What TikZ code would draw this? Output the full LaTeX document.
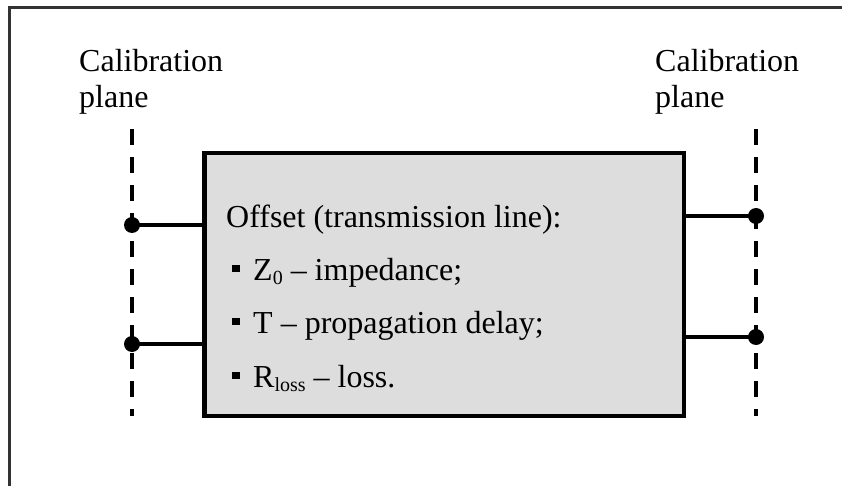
\documentclass[tikz,border=0pt]{standalone}
\usepackage{fontspec}
\setmainfont{Liberation Serif}
\definecolor{boxfill}{HTML}{DDDDDD}
\definecolor{framecol}{HTML}{333333}
\newcommand{\bigtxt}{\fontsize{32}{36}\selectfont}
\newcommand{\subtxt}[1]{\raisebox{-4pt}{\fontsize{20}{20}\selectfont #1}}
\tikzset{
  txt/.style={anchor=base west, inner sep=0pt, font=\bigtxt},
  plane/.style={line width=3.6pt, dash pattern=on 16pt off 12pt},
  wire/.style={line width=4pt},
  dotmark/.style={fill=black},
  bulletsq/.style={fill=black, minimum size=7.5pt, inner sep=0pt, draw=none},
  offbox/.style={draw=black, line width=4.6pt, fill=boxfill, minimum width=479.5pt, minimum height=263pt, inner sep=0pt}
}
\begin{document}
\begin{tikzpicture}[x=1pt,y=-1pt]
\useasboundingbox (0,0) rectangle (842,486);
% outer frame (only top and left visible)
\draw[framecol, line width=2.2pt] (9.5,486) -- (9.5,7.5) -- (842,7.5);
% box
\node[offbox] (box) at (444.25,284.5) {};
% calibration labels
\node[txt] (cl1) at (79,72) {Calibration};
\node[txt] (cl2) at (79,108) {plane};
\node[txt] (cr1) at (655,72) {Calibration};
\node[txt] (cr2) at (655,108) {plane};
% calibration planes
\coordinate (LT) at (132,129);
\coordinate (LB) at (132,416);
\coordinate (RT) at (756,129);
\coordinate (RB) at (756,416);
\draw[plane] (LT) -- (LB);
\draw[plane] (RT) -- (RB);
% ports
\coordinate (L1) at (132,225);
\coordinate (L2) at (132,344);
\coordinate (R1) at (756,216);
\coordinate (R2) at (756,337);
\draw[wire] (L1) -- (L1 -| box.west);
\draw[wire] (L2) -- (L2 -| box.west);
\draw[wire] (R1) -- (R1 -| box.east);
\draw[wire] (R2) -- (R2 -| box.east);
\fill[dotmark] (L1) circle (8);
\fill[dotmark] (L2) circle (8);
\fill[dotmark] (R1) circle (8);
\fill[dotmark] (R2) circle (8);
% box text
\node[txt] (t0) at (226,227) {Offset (transmission line):};
\node[bulletsq] (b1) at (236,268.5) {};
\node[txt] (t1) at (253,280) {Z\subtxt{0} – impedance;};
\node[bulletsq] (b2) at (236,321.5) {};
\node[txt] (t2) at (253,333) {T – propagation delay;};
\node[bulletsq] (b3) at (236,375.5) {};
\node[txt] (t3) at (253,387) {R\subtxt{loss} – loss.};
\end{tikzpicture}
\end{document}
